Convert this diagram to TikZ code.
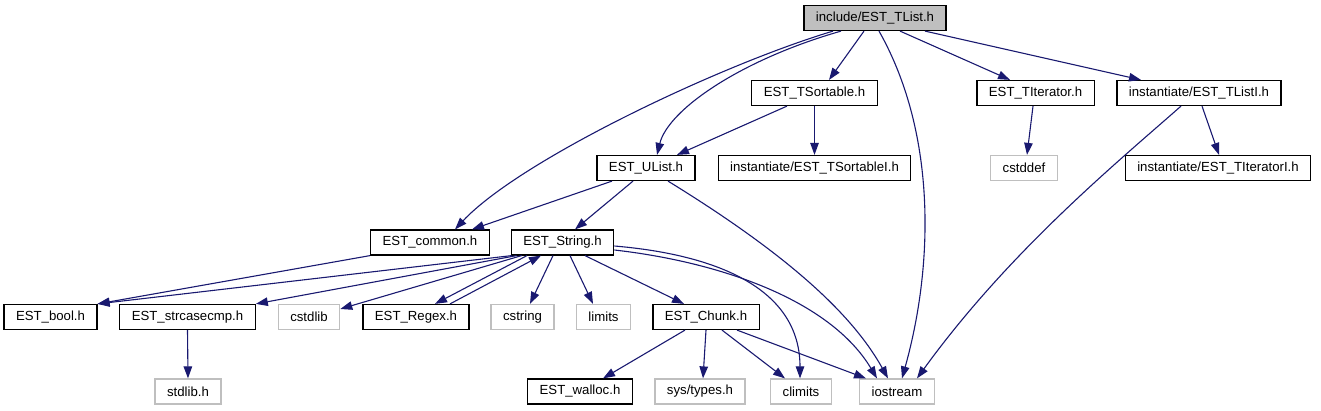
\documentclass[tikz,border=0pt]{standalone}
\usepackage{fontspec}
\setmainfont{Liberation Sans}
\usetikzlibrary{arrows.meta}
\definecolor{edgeblue}{HTML}{191970}
\definecolor{sysgray}{HTML}{BFBFBF}
\begin{document}
\begin{tikzpicture}[x=1pt,y=-1pt,
    hdr/.style={draw=black,line width=1.2pt,fill=white,minimum height=25pt,inner xsep=12pt,inner ysep=0pt,font=\fontsize{13.2}{15}\selectfont},
    sys/.style={hdr,draw=sysgray},
    top/.style={hdr,fill=sysgray},
    inc/.style={draw=edgeblue,line width=1.1pt,-{Triangle[length=12pt,width=8.5pt]}}]
    \useasboundingbox (0,0) rectangle (1321,411);
    % rows of the include graph
    \node[top] (tlist) at (875,18) {include/EST\_TList.h};
    \node[hdr] (tsort) at (814.5,93) {EST\_TSortable.h};
    \node[hdr] (titer) at (1035.5,93) {EST\_TIterator.h};
    \node[hdr] (tlisti) at (1199,93) {instantiate/EST\_TListI.h};
    \node[hdr] (ulist) at (646,168) {EST\_UList.h};
    \node[hdr] (tsorti) at (814.5,168) {instantiate/EST\_TSortableI.h};
    \node[sys] (cstddef) at (1024,168) {cstddef};
    \node[hdr] (titeri) at (1218,168) {instantiate/EST\_TIteratorI.h};
    \node[hdr] (common) at (430,242.5) {EST\_common.h};
    \node[hdr] (string) at (562.5,242.5) {EST\_String.h};
    \node[hdr] (bool) at (50.5,317) {EST\_bool.h};
    \node[hdr] (strcase) at (187.5,317) {EST\_strcasecmp.h};
    \node[sys] (cstdlib) at (309,317) {cstdlib};
    \node[hdr] (regex) at (416,317) {EST\_Regex.h};
    \node[sys] (cstring) at (522.5,317) {cstring};
    \node[sys] (limits) at (603.5,317) {limits};
    \node[hdr] (chunk) at (706,317) {EST\_Chunk.h};
    \node[sys] (stdlib) at (188,391.5) {stdlib.h};
    \node[hdr] (walloc) at (580,391.5) {EST\_walloc.h};
    \node[sys] (systypes) at (700,391.5) {sys/types.h};
    \node[sys] (climits) at (801,391.5) {climits};
    \node[sys] (iostream) at (897,391.5) {iostream};
    % edges out of EST_TList.h
    \draw[inc] ([xshift=-42pt]tlist.south) .. controls (720,65) and (520,160) .. ([xshift=25pt]common.north);
    \draw[inc] ([xshift=-34pt]tlist.south) .. controls (740,60) and (668,110) .. ([xshift=11pt]ulist.north);
    \draw[inc] ([xshift=-11pt]tlist.south) -- ([xshift=14.5pt]tsort.north);
    \draw[inc] ([xshift=4pt]tlist.south) .. controls (935,130) and (935,260) .. ([xshift=5pt]iostream.north);
    \draw[inc] ([xshift=25pt]tlist.south) -- ([xshift=-25.5pt]titer.north);
    \draw[inc] ([xshift=50pt]tlist.south) -- ([xshift=-58pt]tlisti.north);
    % second row
    \draw[inc] ([xshift=-27.5pt]tsort.south) -- ([xshift=31pt]ulist.north);
    \draw[inc] (tsort.south) -- (tsorti.north);
    \draw[inc] ([xshift=-2.5pt]titer.south) -- ([xshift=3pt]cstddef.north);
    \draw[inc] ([xshift=3pt]tlisti.south) -- ([xshift=1pt]titeri.north);
    \draw[inc] ([xshift=-18pt]tlisti.south) .. controls (1120,160) and (1010,250) .. ([xshift=20pt]iostream.north);
    % EST_UList.h
    \draw[inc] ([xshift=-34pt]ulist.south) -- ([xshift=42pt]common.north);
    \draw[inc] ([xshift=-13pt]ulist.south) -- ([xshift=12.5pt]string.north);
    \draw[inc] ([xshift=22pt]ulist.south) .. controls (780,250) and (850,310) .. ([xshift=-9pt]iostream.north);
    % EST_common.h and EST_String.h
    \draw[inc] (common.south west) -- (bool.north east);
    \draw[inc] ([xshift=1pt]string.south west) -- (bool.north east);
    \draw[inc] ([xshift=6pt]string.south west) -- (strcase.north east);
    \draw[inc] ([xshift=11pt]string.south west) -- ([yshift=8pt]cstdlib.east);
    \draw[inc] ([xshift=-35.5pt]string.south) -- ([xshift=19pt]regex.north);
    \draw[inc] ([xshift=34pt]regex.north) -- ([xshift=-21.5pt]string.south);
    \draw[inc] ([xshift=-9.5pt]string.south) -- ([xshift=7.5pt]cstring.north);
    \draw[inc] ([xshift=7.5pt]string.south) -- ([xshift=-10.5pt]limits.north);
    \draw[inc] ([xshift=22.5pt]string.south) -- ([xshift=-22pt]chunk.north);
    \draw[inc] ([yshift=-3.5pt]string.east) .. controls (720,255) and (800,290) .. ([xshift=-1pt]climits.north);
    \draw[inc] ([yshift=-7.5pt]string.east) .. controls (720,262) and (830,300) .. ([xshift=-20pt]iostream.north);
    % bottom row
    \draw[inc] (strcase.south) -- (stdlib.north);
    \draw[inc] ([xshift=-21pt]chunk.south) -- ([xshift=23pt]walloc.north);
    \draw[inc] (chunk.south) -- ([xshift=3pt]systypes.north);
    \draw[inc] ([xshift=16pt]chunk.south) -- ([xshift=-16pt]climits.north);
    \draw[inc] ([xshift=31pt]chunk.south) -- ([xshift=-31pt]iostream.north);
\end{tikzpicture}
\end{document}
